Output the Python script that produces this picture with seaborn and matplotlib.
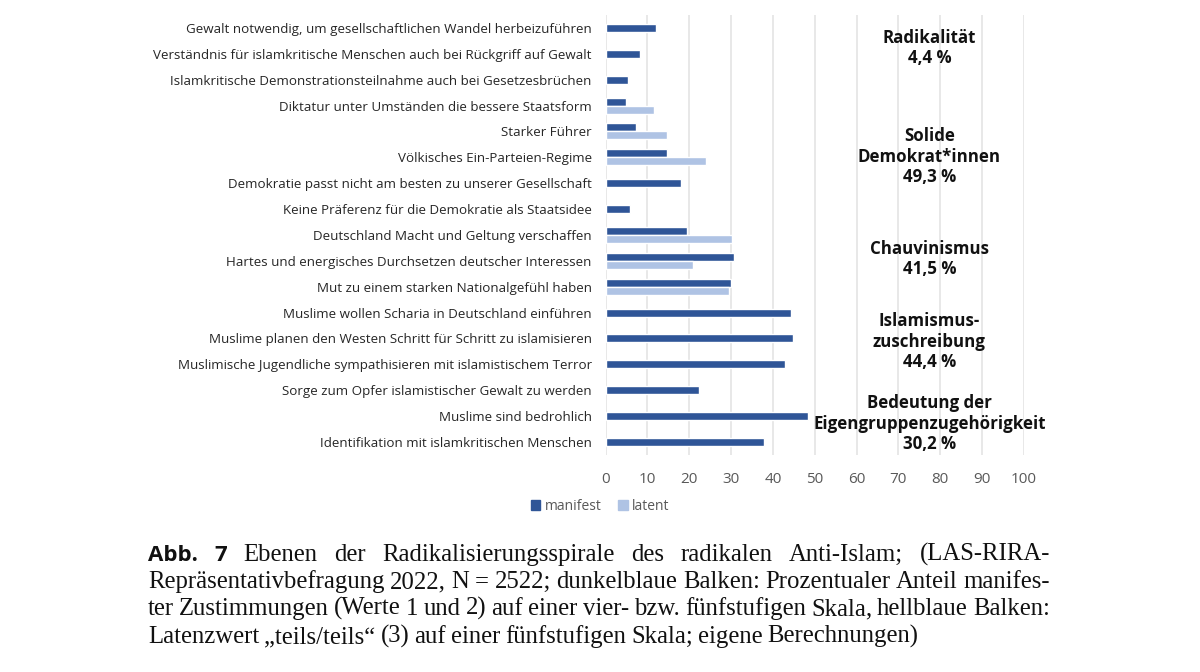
import numpy as np
import pandas as pd
import matplotlib.pyplot as plt
import seaborn as sns

# Items (top to bottom) and percentages
items = [
    "Gewalt notwendig, um gesellschaftlichen Wandel herbeizuführen",
    "Verständnis für islamkritische Menschen auch bei Rückgriff auf Gewalt",
    "Islamkritische Demonstrationsteilnahme auch bei Gesetzesbrüchen",
    "Diktatur unter Umständen die bessere Staatsform",
    "Starker Führer",
    "Völkisches Ein-Parteien-Regime",
    "Demokratie passt nicht am besten zu unserer Gesellschaft",
    "Keine Präferenz für die Demokratie als Staatsidee",
    "Deutschland Macht und Geltung verschaffen",
    "Hartes und energisches Durchsetzen deutscher Interessen",
    "Mut zu einem starken Nationalgefühl haben",
    "Muslime wollen Scharia in Deutschland einführen",
    "Muslime planen den Westen Schritt für Schritt zu islamisieren",
    "Muslimische Jugendliche sympathisieren mit islamistischem Terror",
    "Sorge zum Opfer islamistischer Gewalt zu werden",
    "Muslime sind bedrohlich",
    "Identifikation mit islamkritischen Menschen",
]
manifest = [12.1, 8.3, 5.4, 5.0, 7.2, 14.7, 18.1, 5.9, 19.5, 30.7, 30.1,
            44.4, 44.7, 42.8, 22.3, 48.4, 37.9]
latent = [np.nan, np.nan, np.nan, 11.5, 14.8, 24.1, np.nan, np.nan, 30.2, 20.8, 29.4,
          np.nan, np.nan, np.nan, np.nan, np.nan, np.nan]

# level annotations and the row they are centred on
levels = ["Radikalität\n4,4 %",
          "Solide\nDemokrat*innen\n49,3 %",
          "Chauvinismus\n41,5 %",
          "Islamismus-\nzuschreibung\n44,4 %",
          "Bedeutung der\nEigengruppenzugehörigkeit\n30,2 %"]
level_rows = [0.77, 4.98, 8.92, 12.12, 15.29]

series = ["manifest", "latent"]
colors = {"manifest": "#2F5597", "latent": "#AFC3E4"}

caption = [
    [("Abb.", "b"), ("7", "b")] + [(w, "s") for w in
        "Ebenen der Radikalisierungsspirale des radikalen Anti-Islam; (LAS-RIRA-".split()],
    [(w, "s") for w in
        "Repräsentativbefragung 2022, N = 2522; dunkelblaue Balken: Prozentualer Anteil manifes-".split()],
    [(w, "s") for w in
        "ter Zustimmungen (Werte 1 und 2) auf einer vier- bzw. fünfstufigen Skala, hellblaue Balken:".split()],
    [(w, "s") for w in
        "Latenzwert „teils/teils“ (3) auf einer fünfstufigen Skala; eigene Berechnungen)".split()],
]

df = pd.DataFrame({"item": items * 2,
                   "serie": ["manifest"] * len(items) + ["latent"] * len(items),
                   "value": manifest + latent})

sns.set_theme(style="white")
plt.rcParams["font.family"] = ["Open Sans", "DejaVu Sans"]

fig = plt.figure(figsize=(12, 6.72), dpi=100)
ax = fig.add_axes([0.5046, 0.3230, 0.3487, 0.6547])

sns.barplot(data=df, y="item", x="value", hue="serie", hue_order=series,
            order=items, palette=colors, orient="h", width=0.62, gap=0,
            dodge=True, ax=ax, legend=False, errorbar=None, saturation=1)

# bars without a latent partner sit in the middle of their row
for bar in ax.containers[0]:
    h = bar.get_height()
    row = int(round(bar.get_y() + h / 2))
    if np.isnan(latent[row]):
        bar.set_y(row - h / 2)

ax.set_xlim(0, 100)
ax.set_xticks(range(0, 101, 10))
ax.set_xlabel("")
ax.set_ylabel("")
for s in ax.spines.values():
    s.set_visible(False)
ax.grid(axis="x", color="#e2e2e2", lw=1.1)
ax.set_axisbelow(True)
ax.tick_params(axis="x", length=7, width=1.1, color="#e2e2e2", labelsize=11,
               labelcolor="#595959", pad=5)
ax.tick_params(axis="y", length=0, labelsize=9.6, labelcolor="#262626", pad=10)

for txt, row in zip(levels, level_rows):
    ax.text(77.4, row, txt, ha="center", va="center", fontsize=12.2,
            fontweight="bold", color="#111111", linespacing=1.18)

handles = [plt.Rectangle((0, 0), 1, 1, color=colors[s]) for s in series]
fig.legend(handles, series, loc="center", bbox_to_anchor=(0.5, 0.247), ncol=2,
           frameon=False, fontsize=10, labelcolor="#595959", handlelength=0.7,
           handleheight=0.7, handletextpad=0.3, columnspacing=1.2)

# caption, justified line by line (baseline aligned)
renderer = fig.canvas.get_renderer()
x0, x1 = 148 / 1200, 1050 / 1200
fonts = {"b": dict(family=["Open Sans", "DejaVu Sans"], fontweight="bold", fontsize=16),
         "s": dict(family=["Liberation Serif", "DejaVu Serif"], fontsize=17.8)}
baselines = [561, 588, 615, 643]
fig_w = fig.bbox.width
for k, (line, py) in enumerate(zip(caption, baselines)):
    y = 1 - py / 672
    objs = [fig.text(0, y, w, va="baseline", ha="left", color="#111111", **fonts[f])
            for w, f in line]
    widths = [o.get_window_extent(renderer).width / fig_w for o in objs]
    if k < len(caption) - 1:
        gap = (x1 - x0 - sum(widths)) / (len(objs) - 1)
    else:
        gap = 5.0 / fig_w
    x = x0
    for o, w in zip(objs, widths):
        o.set_x(x)
        x += w + gap

fig.savefig("out.png", dpi=100)
